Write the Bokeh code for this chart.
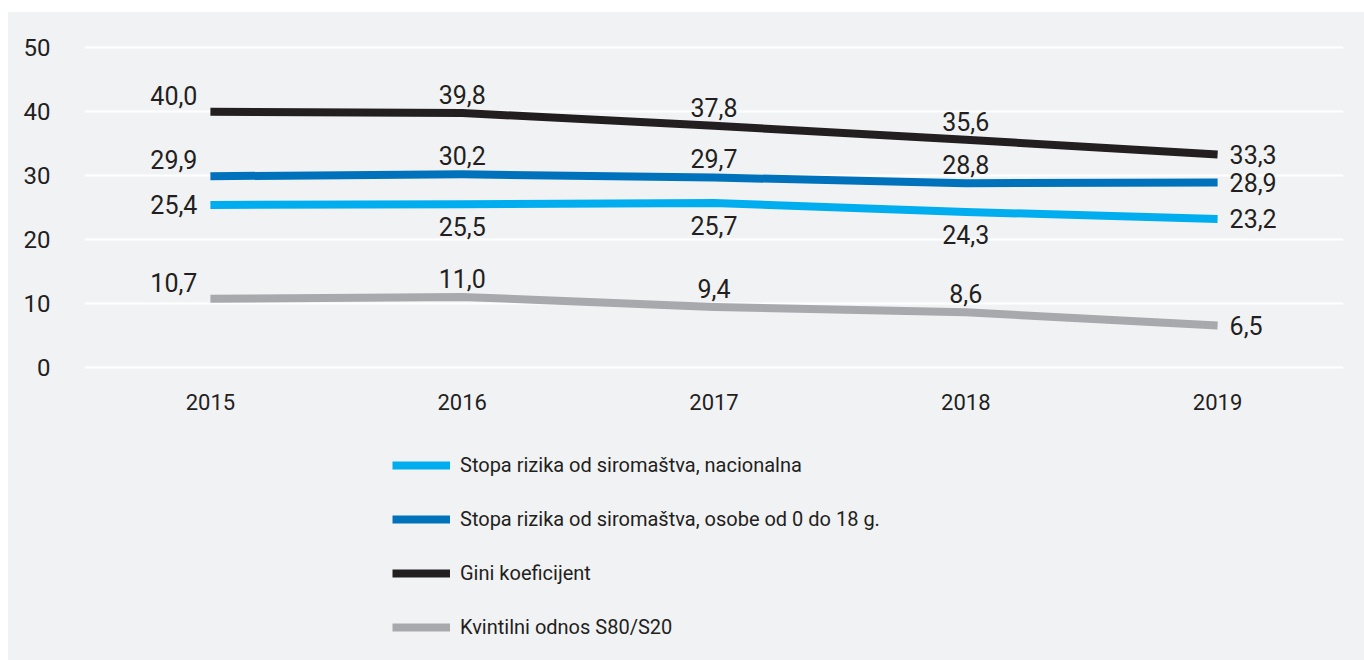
from bokeh.plotting import figure
from bokeh.models import Range1d, FactorRange, Legend, LegendItem, ColumnDataSource, Spacer
from bokeh.layouts import column, row
from bokeh.core.properties import value
from bokeh.embed import file_html
from bokeh.resources import INLINE

# ---- data ----
years = ["2015", "2016", "2017", "2018", "2019"]
nacionalna = [25.4, 25.5, 25.7, 24.3, 23.2]
djeca = [29.9, 30.2, 29.7, 28.8, 28.9]
gini = [40.0, 39.8, 37.8, 35.6, 33.3]
s80s20 = [10.7, 11.0, 9.4, 8.6, 6.5]
series_names = [
    "Stopa rizika od siromaštva, nacionalna",
    "Stopa rizika od siromaštva, osobe od 0 do 18 g.",
    "Gini koeficijent",
    "Kvintilni odnos S80/S20",
]
y_ticks = [0, 10, 20, 30, 40, 50]

# ---- style ----
BG = "#f1f2f4"
TXT = "#231f20"
FONT = "Roboto"
colors = ["#00aeef", "#0072bc", "#231f20", "#a7a9ac"]
# label placement per point: la=left-above, l=left, a=above, b=below, r=right
placements = [
    ["l", "b", "b", "b", "r"],
    ["la", "a", "a", "a", "r"],
    ["la", "a", "a", "a", "r"],
    ["la", "a", "a", "a", "r"],
]
place_style = {
    "la": dict(text_align="right", text_baseline="bottom", x_offset=-13, y_offset=-7),
    "l": dict(text_align="right", text_baseline="middle", x_offset=-13, y_offset=0),
    "a": dict(text_align="center", text_baseline="bottom", x_offset=0, y_offset=-9),
    "b": dict(text_align="center", text_baseline="top", x_offset=0, y_offset=13),
    "r": dict(text_align="left", text_baseline="middle", x_offset=12, y_offset=0),
}

W = 1356
H1, H2 = 418, 230

p = figure(
    width=W, height=H1,
    x_range=FactorRange(*years, range_padding=0),
    y_range=Range1d(-1, 51),
    output_backend="svg", toolbar_location=None,
    min_border_left=76, min_border_right=21, min_border_top=29, min_border_bottom=57,
)
p.background_fill_color = BG
p.border_fill_color = BG
p.outline_line_color = None

p.xgrid.grid_line_color = None
p.ygrid.grid_line_color = "white"
p.ygrid.grid_line_width = 2
p.yaxis.ticker = y_ticks

for ax in (p.xaxis[0], p.yaxis[0]):
    ax.axis_line_color = None
    ax.major_tick_line_color = None
    ax.minor_tick_line_color = None
    ax.major_label_text_font = FONT
    ax.major_label_text_color = TXT
    ax.major_label_text_font_size = "24px"
p.yaxis.major_label_standoff = 28
p.xaxis.major_label_standoff = 14
p.xaxis.major_label_text_font_size = "22px"

# legend panel (separate figure under the chart)
pl = figure(
    width=W, height=H2,
    x_range=FactorRange(*years, range_padding=0), y_range=Range1d(0, 1),
    output_backend="svg", toolbar_location=None,
    x_axis_location=None, y_axis_location=None,
    min_border_left=0, min_border_right=0, min_border_top=0, min_border_bottom=0,
)
pl.background_fill_color = BG
pl.border_fill_color = BG
pl.outline_line_color = None
pl.xgrid.grid_line_color = None
pl.ygrid.grid_line_color = None

all_series = [nacionalna, djeca, gini, s80s20]
items = []
for vals, col, name, plc in zip(all_series, colors, series_names, placements):
    src = ColumnDataSource(dict(x=years, y=vals))
    p.line("x", "y", source=src, line_color=col, line_width=8, line_join="round")
    lr = pl.line("x", "y", source=src, line_color=col, line_width=8, visible=False)
    items.append(LegendItem(label=name, renderers=[lr]))
    for key in ["la", "l", "a", "b", "r"]:
        idx = [i for i, k in enumerate(plc) if k == key]
        if not idx:
            continue
        lsrc = ColumnDataSource(dict(
            x=[years[i] for i in idx],
            y=[vals[i] for i in idx],
            t=[f"{vals[i]:.1f}".replace(".", ",") for i in idx],
        ))
        p.text("x", "y", text="t", source=lsrc, text_color=TXT,
               text_font=value(FONT), text_font_size="25px", **place_style[key])

legend = Legend(
    items=items,
    location=(308, 21),
    orientation="vertical",
    glyph_width=58, glyph_height=22, label_height=22,
    label_standoff=10, spacing=30, padding=0, margin=0,
    label_text_font=FONT, label_text_font_size="20px", label_text_color=TXT,
    border_line_color=None, background_fill_alpha=0,
)
pl.add_layout(legend, "center")

chart = column(p, pl, styles={"background-color": BG})
layout = column(Spacer(width=W, height=12),
                row(Spacer(width=8, height=H1 + H2), chart))
open("out.html", "w").write(file_html(layout, INLINE))
